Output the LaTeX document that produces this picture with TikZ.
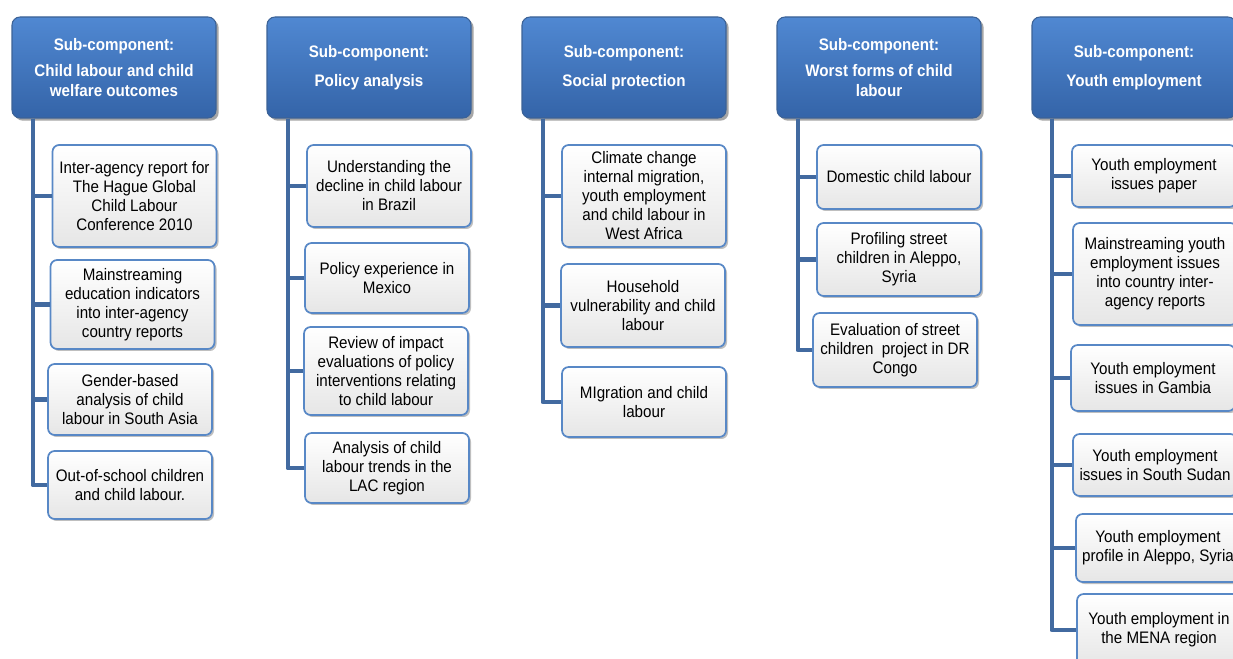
\documentclass[tikz,border=0pt]{standalone}
\usepackage{fontspec}
\setmainfont[FakeStretch=0.91]{Liberation Sans}
\usetikzlibrary{shadows}

\definecolor{hdrtop}{RGB}{80,136,210}
\definecolor{hdrbot}{RGB}{52,100,168}
\definecolor{hdrline}{RGB}{60,98,150}
\definecolor{boxline}{RGB}{88,136,198}
\definecolor{boxbot}{RGB}{230,230,230}
\definecolor{trunkcol}{RGB}{66,106,160}

\tikzset{every picture/.style={line width=0.75pt}}
\tikzset{
  header/.style={draw=hdrline, line width=0.8pt, rounded corners=6pt, top color=hdrtop, bottom color=hdrbot,
    minimum width=153pt, minimum height=75.75pt, align=center, text=white,
    font=\fontsize{12.5}{15}\selectfont\bfseries,
    drop shadow={shadow xshift=2pt, shadow yshift=-2pt, opacity=0.35, fill=black}},
  item/.style={draw=boxline, line width=1.3pt, rounded corners=5pt, top color=white, bottom color=boxbot,
    minimum width=123pt, align=center, inner sep=2pt,
    font=\fontsize{12.5}{14.25}\selectfont,
    drop shadow={shadow xshift=1.5pt, shadow yshift=-1.5pt, opacity=0.25, fill=black}},
  branch/.style={draw=trunkcol, line width=3.7pt, line join=round}
}

\begin{document}
\begin{tikzpicture}[x=0.75pt,y=0.75pt,yscale=-1]
	\useasboundingbox (0,0) rectangle (1233,659);
	\clip (0,0) rectangle (1233,659);

	% Headers
	\node [header] (h1) at (114,67.5) {Sub-component:\\[5pt]Child labour and child\\welfare outcomes};
	\node [header] (h2) at (369,67.5) {Sub-component:\\[7pt]Policy analysis};
	\node [header] (h3) at (624,67.5) {Sub-component:\\[7pt]Social protection};
	\node [header] (h4) at (879,67.5) {Sub-component:\\[5pt]Worst forms of child\\labour};
	\node [header] (h5) at (1134,67.5) {Sub-component:\\[7pt]Youth employment};

	% Trunk start points
	\coordinate (t1) at (33,118);
	\coordinate (t2) at (288,118);
	\coordinate (t3) at (543,118);
	\coordinate (t4) at (798,118);
	\coordinate (t5) at (1052,118);

	% Column 1
	\node [item, minimum height=76.5pt] (c1a) at (134.5,196) {Inter-agency report for\\The Hague Global\\Child Labour\\Conference 2010};
	\node [item, minimum height=66.75pt] (c1b) at (132.5,304.5) {Mainstreaming\\education indicators\\into inter-agency\\country reports};
	\node [item, minimum height=53.25pt] (c1c) at (130,399.5) {Gender-based\\analysis of child\\labour in South Asia};
	\node [item, minimum height=51pt] (c1d) at (130,485) {Out-of-school children\\and child labour.};

	% Column 2
	\node [item, minimum height=61.5pt] (c2a) at (389,186) {Understanding the\\decline in child labour\\in Brazil};
	\node [item, minimum height=52.5pt] (c2b) at (387,278) {Policy experience in\\Mexico};
	\node [item, minimum height=66pt] (c2c) at (386,371) {Review of impact\\evaluations of policy\\interventions relating\\to child labour};
	\node [item, minimum height=52.5pt] (c2d) at (387,468) {Analysis of child\\labour trends in the\\LAC region};

	% Column 3
	\node [item, minimum height=76.5pt] (c3a) at (644,196) {Climate change\\internal migration,\\youth employment\\and child labour in\\West Africa};
	\node [item, minimum height=62.25pt] (c3b) at (643,305.5) {Household\\vulnerability and child\\labour};
	\node [item, minimum height=52.5pt] (c3c) at (644,402) {MIgration and child\\labour};

	% Column 4
	\node [item, minimum height=48pt] (c4a) at (899,177) {Domestic child labour};
	\node [item, minimum height=54.75pt] (c4b) at (899,259.5) {Profiling street\\children in Aleppo,\\Syria};
	\node [item, minimum height=55.5pt] (c4c) at (895,350) {Evaluation of street\\children\ \ project in DR\\Congo};

	% Column 5
	\node [item, minimum height=46.5pt] (c5a) at (1154,176) {Youth employment\\issues paper};
	\node [item, minimum height=76.5pt] (c5b) at (1155,274) {Mainstreaming youth\\employment issues\\into country inter-\\agency reports};
	\node [item, minimum height=49.5pt] (c5c) at (1153,378) {Youth employment\\issues in Gambia};
	\node [item, minimum height=46.5pt] (c5d) at (1155,465) {Youth employment\\issues in South Sudan};
	\node [item, minimum height=51pt] (c5e) at (1158,548) {Youth employment\\profile in Aleppo, Syria};
	\node [item, minimum height=54pt] (c5f) at (1159,630) {Youth employment in\\the MENA region};

	% Connectors
	\foreach \c in {c1a,c1b,c1c,c1d} \draw [branch] (h1.south -| t1) |- (\c.west);
	\foreach \c in {c2a,c2b,c2c,c2d} \draw [branch] (h2.south -| t2) |- (\c.west);
	\foreach \c in {c3a,c3b,c3c} \draw [branch] (h3.south -| t3) |- (\c.west);
	\foreach \c in {c4a,c4b,c4c} \draw [branch] (h4.south -| t4) |- (\c.west);
	\foreach \c in {c5a,c5b,c5c,c5d,c5e,c5f} \draw [branch] (h5.south -| t5) |- (\c.west);

\end{tikzpicture}
\end{document}
